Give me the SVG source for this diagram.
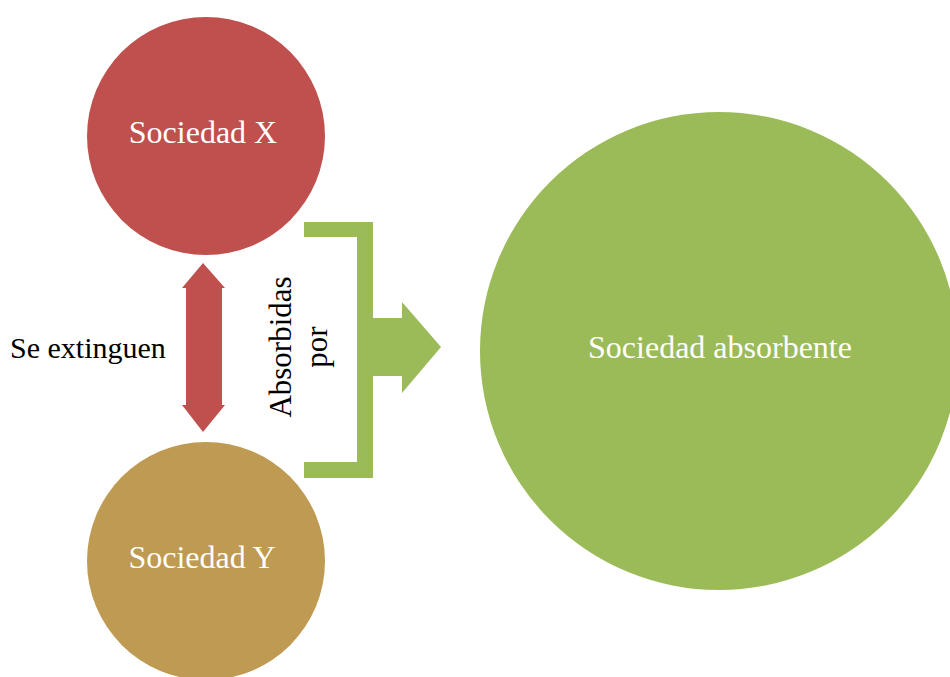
<svg xmlns="http://www.w3.org/2000/svg" width="950" height="677" viewBox="0 0 950 677">
<style>
.lbl{font-family:'Liberation Serif','Times New Roman',serif;font-size:32px;fill:#ffffff;text-anchor:middle}
.blk{font-family:'Liberation Serif','Times New Roman',serif;font-size:30px;fill:#000000}
</style>
<rect width="950" height="677" fill="#ffffff"/>
<g id="sociedad-x">
<circle cx="206" cy="136" r="119" fill="#C0504D"/>
<text class="lbl" x="203" y="143">Sociedad X</text>
</g>
<g id="sociedad-y">
<circle cx="206" cy="561" r="119" fill="#BE9A52"/>
<text class="lbl" x="202" y="568">Sociedad Y</text>
</g>
<g id="sociedad-absorbente">
<circle cx="719" cy="351" r="239" fill="#9BBB59"/>
<text class="lbl" x="720" y="358">Sociedad absorbente</text>
</g>
<g id="connectors">
<polygon fill="#C0504D" points="203,263 225,288 222,288 222,405 225,405 203,432 182,405 186,405 186,288 182,288"/>
<polygon fill="#9BBB59" points="304,222 373,222 373,318 402,318 402,302 441,347 402,393 402,376 373,376 373,478 304,478 304,462 357,462 357,237 304,237"/>
</g>
<g id="labels">
<text class="blk" x="10" y="358" font-family="'Liberation Serif', serif">Se extinguen</text>
<text class="blk" style="font-size:31px" font-family="'Liberation Serif', serif" text-anchor="middle" transform="translate(291,347) rotate(-90)">Absorbidas</text>
<text class="blk" style="font-size:31px" font-family="'Liberation Serif', serif" text-anchor="middle" transform="translate(327,347) rotate(-90)">por</text>
</g>
</svg>
